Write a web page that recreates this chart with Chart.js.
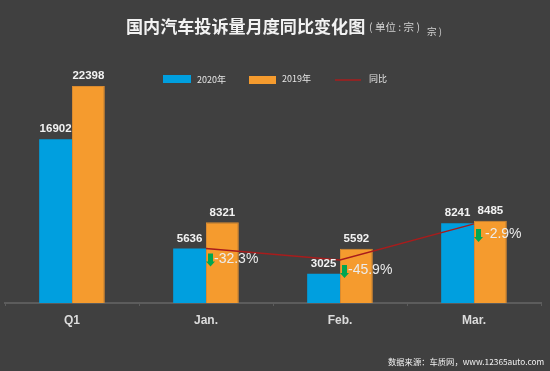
<!DOCTYPE html>
<html>
<head>
<meta charset="utf-8">
<style>
  html, body { margin: 0; padding: 0; background: #404040; }
  canvas { display: block; }
</style>
<script src="https://cdn.jsdelivr.net/npm/chart.js"></script>
</head>
<body>
<canvas id="chart" width="550" height="371"></canvas>
<script>
const categories = ['Q1', 'Jan.', 'Feb.', 'Mar.'];
const values2020 = [16902, 5636, 3025, 8241];
const values2019 = [22398, 8321, 5592, 8485];
const yoyValues = [null, -32.3, -45.9, -2.9];
const yoyLabels = ['', '-32.3%', '-45.9%', '-2.9%'];
const seriesNames = ['2020年', '2019年', '同比'];
const titleText = '国内汽车投诉量月度同比变化图';
const unitText = '( 单位 : 宗 )';
const unitExtra = '宗 )';
const sourceText = '数据来源：车质网，www.12365auto.com';

const BLUE = '#009FDF';
const ORANGE = '#F59B2E';
const RED = '#A81C1C';
const CJK = '"Noto Sans CJK SC", sans-serif';

const textPlugin = {
  id: 'textPlugin',
  afterDraw(chart) {
    const { ctx, scales } = chart;
    ctx.save();
    ctx.textBaseline = 'middle';

    // title
    ctx.textAlign = 'left';
    ctx.fillStyle = '#f2f2f2';
    ctx.font = 'bold 17.1px ' + CJK;
    ctx.fillText(titleText, 126, 26);
    ctx.fillStyle = '#d0d0d0';
    ctx.font = '10.5px ' + CJK;
    ctx.fillText(unitText, 369, 27);
    ctx.font = '9.5px ' + CJK;
    ctx.fillText(unitExtra, 427, 31);

    // legend
    ctx.fillStyle = BLUE;
    ctx.fillRect(163, 75, 28, 8);
    ctx.fillStyle = ORANGE;
    ctx.fillRect(249, 76, 27, 8);
    ctx.strokeStyle = RED;
    ctx.lineWidth = 1.5;
    ctx.beginPath();
    ctx.moveTo(335, 80);
    ctx.lineTo(361, 80);
    ctx.stroke();
    ctx.fillStyle = '#e6e6e6';
    ctx.font = '9px ' + CJK;
    ctx.fillText(seriesNames[0], 197, 80);
    ctx.fillText(seriesNames[1], 282, 79);
    ctx.fillText(seriesNames[2], 369, 79);

    // values above the bars
    ctx.textAlign = 'center';
    ctx.fillStyle = '#f2f2f2';
    ctx.font = 'bold 11.5px "Liberation Sans", Arial, sans-serif';
    [0, 1].forEach(d => {
      chart.getDatasetMeta(d).data.forEach((bar, i) => {
        const value = chart.data.datasets[d].data[i];
        ctx.fillText(String(value), bar.x, bar.y - 10);
      });
    });

    // year on year arrows and percentages
    const yoy = chart.getDatasetMeta(2).data;
    yoy.forEach((pt, i) => {
      if (yoyValues[i] === null) return;
      const x = scales.x.getPixelForValue(i);
      const y = scales.y1.getPixelForValue(yoyValues[i]);
      const ax = x + 4.5;
      ctx.fillStyle = '#00A651';
      ctx.beginPath();
      ctx.moveTo(ax - 2.5, y + 5);
      ctx.lineTo(ax + 2.5, y + 5);
      ctx.lineTo(ax + 2.5, y + 13);
      ctx.lineTo(ax + 4.5, y + 13);
      ctx.lineTo(ax, y + 18);
      ctx.lineTo(ax - 4.5, y + 13);
      ctx.lineTo(ax - 2.5, y + 13);
      ctx.closePath();
      ctx.fill();
      ctx.textAlign = 'left';
      ctx.fillStyle = '#ececec';
      ctx.font = '14px "Liberation Sans", Arial, sans-serif';
      ctx.fillText(yoyLabels[i], x + (i === 3 ? 11 : 8), y + 10.5);
    });

    // source
    ctx.textAlign = 'left';
    ctx.fillStyle = '#f2f2f2';
    ctx.font = '8.3px ' + CJK;
    ctx.fillText(sourceText, 388, 362);
    ctx.restore();
  }
};

new Chart(document.getElementById('chart'), {
  data: {
    labels: categories,
    datasets: [
      {
        type: 'bar',
        label: seriesNames[0],
        data: values2020,
        backgroundColor: BLUE,
        yAxisID: 'y',
        order: 2,
        barPercentage: 1,
        categoryPercentage: 0.49
      },
      {
        type: 'bar',
        label: seriesNames[1],
        data: values2019,
        backgroundColor: ORANGE,
        borderColor: '#D98A30',
        borderWidth: 1,
        yAxisID: 'y',
        order: 2,
        barPercentage: 1,
        categoryPercentage: 0.49
      },
      {
        type: 'line',
        label: seriesNames[2],
        data: yoyValues,
        borderColor: RED,
        borderWidth: 1.5,
        pointRadius: 0,
        tension: 0,
        yAxisID: 'y1',
        order: 1
      }
    ]
  },
  options: {
    responsive: false,
    animation: false,
    layout: { padding: { left: 5, right: 9, top: 60, bottom: 0 } },
    plugins: {
      legend: { display: false },
      title: { display: false },
      tooltip: { enabled: false }
    },
    scales: {
      x: {
        grid: {
          offset: true,
          drawOnChartArea: false,
          drawTicks: true,
          tickLength: 3,
          color: '#5c5c5c'
        },
        border: { color: '#5c5c5c', width: 2 },
        ticks: {
          color: '#dcdcdc',
          padding: 7,
          maxRotation: 0,
          font: { family: '"Liberation Sans", Arial, sans-serif', size: 12, weight: 'bold' }
        },
        afterFit(scale) { scale.height = 68; }
      },
      y: { display: false, min: 0, max: 25077 },
      y1: { display: false, position: 'right', min: -97, max: 192 }
    }
  },
  plugins: [textPlugin]
});
</script>
</body>
</html>
